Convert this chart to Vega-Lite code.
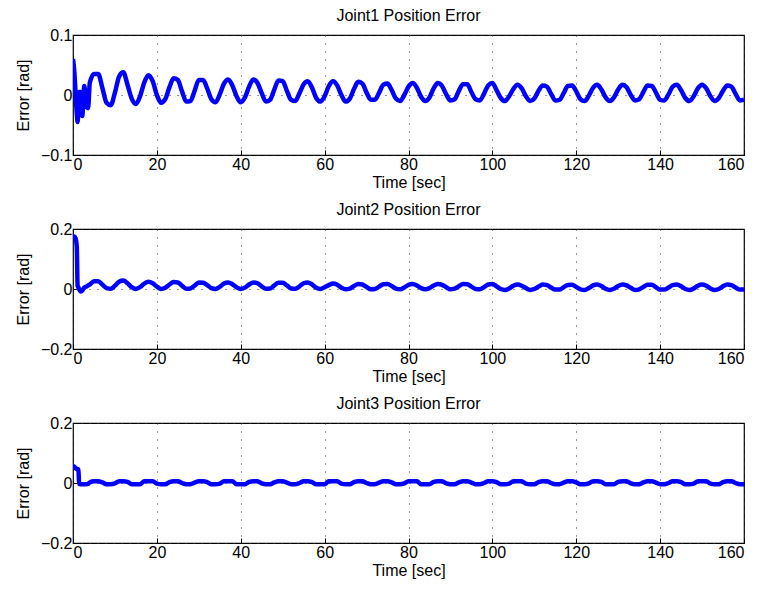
{
  "$schema": "https://vega.github.io/schema/vega-lite/v6.json",
  "padding": {"left": 14, "top": 7, "right": 5, "bottom": 5},
  "spacing": 10,
  "data": {"values": [
    {"t":0,"a":0.060,"b":0.170,"c":0.055},
    {"t":0.3,"a":0.040,"b":0.175,"c":0.055},
    {"t":0.6,"a":0.005,"b":0.170,"c":0.050},
    {"t":0.9,"a":-0.030,"b":0.140,"c":0.047},
    {"t":1.1,"a":-0.045,"b":0.010,"c":0.046},
    {"t":1.3,"a":-0.020,"b":0.005,"c":0.045},
    {"t":1.45,"a":0.005,"b":0.000,"c":-0.003},
    {"t":1.8,"a":0.005,"b":-0.008,"c":-0.004},
    {"t":2.2,"a":-0.035,"b":-0.005,"c":-0.004},
    {"t":2.7,"a":0.015,"b":0.005,"c":-0.004},
    {"t":3.2,"a":-0.020,"b":0.008,"c":-0.004},
    {"t":3.6,"a":-0.022,"b":0.012,"c":-0.003},
    {"t":4,"a":0.020,"b":0.015,"c":0.002},
    {"t":5,"a":0.035,"b":0.026,"c":0.006},
    {"t":6,"a":0.035,"b":0.026,"c":0.006},
    {"t":7,"a":0.012,"b":0.015,"c":0.002},
    {"t":8,"a":-0.013,"b":0.003,"c":-0.004},
    {"t":9,"a":-0.017,"b":0.001,"c":-0.004},
    {"t":10,"a":0.004,"b":0.011,"c":-0.001},
    {"t":11,"a":0.031,"b":0.024,"c":0.006},
    {"t":12,"a":0.038,"b":0.028,"c":0.006},
    {"t":13,"a":0.017,"b":0.019,"c":0.004},
    {"t":14,"a":-0.006,"b":0.006,"c":-0.004},
    {"t":15,"a":-0.015,"b":0.000,"c":-0.004},
    {"t":16,"a":-0.002,"b":0.006,"c":-0.004},
    {"t":17,"a":0.021,"b":0.018,"c":0.006},
    {"t":18,"a":0.033,"b":0.024,"c":0.006},
    {"t":19,"a":0.023,"b":0.019,"c":0.006},
    {"t":20,"a":0.000,"b":0.008,"c":-0.002},
    {"t":21,"a":-0.013,"b":0.000,"c":-0.004},
    {"t":22,"a":-0.007,"b":0.004,"c":-0.004},
    {"t":23,"a":0.013,"b":0.015,"c":0.003},
    {"t":24,"a":0.028,"b":0.023,"c":0.006},
    {"t":25,"a":0.025,"b":0.022,"c":0.006},
    {"t":26,"a":0.006,"b":0.011,"c":0.000},
    {"t":27,"a":-0.011,"b":0.001,"c":-0.004},
    {"t":28,"a":-0.010,"b":0.002,"c":-0.004},
    {"t":29,"a":0.007,"b":0.011,"c":0.001},
    {"t":30,"a":0.025,"b":0.022,"c":0.006},
    {"t":31,"a":0.025,"b":0.021,"c":0.006},
    {"t":32,"a":0.011,"b":0.013,"c":0.003},
    {"t":33,"a":-0.007,"b":0.003,"c":-0.004},
    {"t":34,"a":-0.012,"b":0.000,"c":-0.004},
    {"t":35,"a":0.001,"b":0.007,"c":-0.002},
    {"t":36,"a":0.019,"b":0.018,"c":0.006},
    {"t":37,"a":0.026,"b":0.022,"c":0.006},
    {"t":38,"a":0.016,"b":0.016,"c":0.006},
    {"t":39,"a":-0.002,"b":0.006,"c":-0.004},
    {"t":40,"a":-0.012,"b":0.000,"c":-0.004},
    {"t":41,"a":-0.004,"b":0.005,"c":-0.004},
    {"t":42,"a":0.014,"b":0.015,"c":0.004},
    {"t":43,"a":0.026,"b":0.022,"c":0.006},
    {"t":44,"a":0.020,"b":0.019,"c":0.006},
    {"t":45,"a":0.003,"b":0.009,"c":-0.001},
    {"t":46,"a":-0.011,"b":0.001,"c":-0.004},
    {"t":47,"a":-0.008,"b":0.002,"c":-0.004},
    {"t":48,"a":0.009,"b":0.012,"c":0.002},
    {"t":49,"a":0.024,"b":0.021,"c":0.006},
    {"t":50,"a":0.023,"b":0.021,"c":0.006},
    {"t":51,"a":0.007,"b":0.012,"c":0.001},
    {"t":52,"a":-0.008,"b":0.002,"c":-0.004},
    {"t":53,"a":-0.010,"b":0.001,"c":-0.004},
    {"t":54,"a":0.003,"b":0.009,"c":0.000},
    {"t":55,"a":0.018,"b":0.019,"c":0.006},
    {"t":56,"a":0.023,"b":0.022,"c":0.006},
    {"t":57,"a":0.012,"b":0.015,"c":0.003},
    {"t":58,"a":-0.005,"b":0.004,"c":-0.004},
    {"t":59,"a":-0.011,"b":0.000,"c":-0.004},
    {"t":60,"a":-0.002,"b":0.006,"c":-0.004},
    {"t":61,"a":0.015,"b":0.013,"c":0.006},
    {"t":62,"a":0.023,"b":0.018,"c":0.006},
    {"t":63,"a":0.016,"b":0.014,"c":0.006},
    {"t":64,"a":0.000,"b":0.004,"c":-0.002},
    {"t":65,"a":-0.011,"b":-0.001,"c":-0.004},
    {"t":66,"a":-0.006,"b":0.001,"c":-0.004},
    {"t":67,"a":0.010,"b":0.010,"c":0.003},
    {"t":68,"a":0.022,"b":0.017,"c":0.006},
    {"t":69,"a":0.019,"b":0.015,"c":0.006},
    {"t":70,"a":0.004,"b":0.007,"c":0.000},
    {"t":71,"a":-0.008,"b":-0.001,"c":-0.004},
    {"t":72,"a":-0.008,"b":0.000,"c":-0.004},
    {"t":73,"a":0.004,"b":0.008,"c":0.001},
    {"t":74,"a":0.017,"b":0.016,"c":0.006},
    {"t":75,"a":0.019,"b":0.017,"c":0.006},
    {"t":76,"a":0.008,"b":0.010,"c":0.002},
    {"t":77,"a":-0.006,"b":0.001,"c":-0.004},
    {"t":78,"a":-0.010,"b":-0.001,"c":-0.004},
    {"t":79,"a":0.000,"b":0.005,"c":-0.001},
    {"t":80,"a":0.014,"b":0.014,"c":0.006},
    {"t":81,"a":0.020,"b":0.017,"c":0.006},
    {"t":82,"a":0.012,"b":0.012,"c":0.006},
    {"t":83,"a":-0.003,"b":0.003,"c":-0.004},
    {"t":84,"a":-0.010,"b":-0.001,"c":-0.004},
    {"t":85,"a":-0.004,"b":0.003,"c":-0.004},
    {"t":86,"a":0.011,"b":0.012,"c":0.004},
    {"t":87,"a":0.020,"b":0.017,"c":0.006},
    {"t":88,"a":0.015,"b":0.014,"c":0.006},
    {"t":89,"a":0.001,"b":0.006,"c":-0.001},
    {"t":90,"a":-0.009,"b":-0.001,"c":-0.004},
    {"t":91,"a":-0.007,"b":0.001,"c":-0.004},
    {"t":92,"a":0.007,"b":0.009,"c":0.002},
    {"t":93,"a":0.018,"b":0.017,"c":0.006},
    {"t":94,"a":0.018,"b":0.016,"c":0.006},
    {"t":95,"a":0.005,"b":0.008,"c":0.001},
    {"t":96,"a":-0.007,"b":0.000,"c":-0.004},
    {"t":97,"a":-0.009,"b":-0.001,"c":-0.004},
    {"t":98,"a":0.002,"b":0.006,"c":0.000},
    {"t":99,"a":0.016,"b":0.015,"c":0.006},
    {"t":100,"a":0.020,"b":0.017,"c":0.006},
    {"t":101,"a":0.008,"b":0.009,"c":0.003},
    {"t":102,"a":-0.005,"b":0.000,"c":-0.004},
    {"t":103,"a":-0.010,"b":-0.003,"c":-0.004},
    {"t":104,"a":-0.002,"b":0.002,"c":-0.002},
    {"t":105,"a":0.010,"b":0.011,"c":0.006},
    {"t":106,"a":0.017,"b":0.015,"c":0.006},
    {"t":107,"a":0.011,"b":0.011,"c":0.006},
    {"t":108,"a":-0.002,"b":0.003,"c":-0.002},
    {"t":109,"a":-0.010,"b":-0.003,"c":-0.004},
    {"t":110,"a":-0.006,"b":0.000,"c":-0.004},
    {"t":111,"a":0.007,"b":0.008,"c":0.003},
    {"t":112,"a":0.016,"b":0.015,"c":0.006},
    {"t":113,"a":0.014,"b":0.013,"c":0.006},
    {"t":114,"a":0.002,"b":0.005,"c":0.000},
    {"t":115,"a":-0.009,"b":-0.002,"c":-0.004},
    {"t":116,"a":-0.008,"b":-0.002,"c":-0.004},
    {"t":117,"a":0.003,"b":0.006,"c":0.001},
    {"t":118,"a":0.015,"b":0.013,"c":0.006},
    {"t":119,"a":0.016,"b":0.014,"c":0.006},
    {"t":120,"a":0.006,"b":0.007,"c":0.002},
    {"t":121,"a":-0.007,"b":-0.001,"c":-0.004},
    {"t":122,"a":-0.010,"b":-0.003,"c":-0.004},
    {"t":123,"a":-0.001,"b":0.003,"c":-0.001},
    {"t":124,"a":0.012,"b":0.012,"c":0.006},
    {"t":125,"a":0.017,"b":0.015,"c":0.006},
    {"t":126,"a":0.009,"b":0.010,"c":0.004},
    {"t":127,"a":-0.004,"b":0.001,"c":-0.004},
    {"t":128,"a":-0.010,"b":-0.003,"c":-0.004},
    {"t":129,"a":-0.004,"b":0.001,"c":-0.004},
    {"t":130,"a":0.009,"b":0.010,"c":0.004},
    {"t":131,"a":0.017,"b":0.015,"c":0.006},
    {"t":132,"a":0.013,"b":0.012,"c":0.006},
    {"t":133,"a":0.000,"b":0.004,"c":-0.001},
    {"t":134,"a":-0.009,"b":-0.003,"c":-0.004},
    {"t":135,"a":-0.007,"b":-0.001,"c":-0.004},
    {"t":136,"a":0.005,"b":0.007,"c":0.002},
    {"t":137,"a":0.016,"b":0.014,"c":0.006},
    {"t":138,"a":0.015,"b":0.014,"c":0.006},
    {"t":139,"a":0.004,"b":0.006,"c":0.001},
    {"t":140,"a":-0.008,"b":-0.002,"c":-0.004},
    {"t":141,"a":-0.009,"b":-0.002,"c":-0.004},
    {"t":142,"a":0.001,"b":0.005,"c":0.000},
    {"t":143,"a":0.014,"b":0.013,"c":0.006},
    {"t":144,"a":0.017,"b":0.015,"c":0.006},
    {"t":145,"a":0.008,"b":0.009,"c":0.003},
    {"t":146,"a":-0.005,"b":0.000,"c":-0.004},
    {"t":147,"a":-0.010,"b":-0.003,"c":-0.004},
    {"t":148,"a":-0.002,"b":0.002,"c":-0.002},
    {"t":149,"a":0.011,"b":0.011,"c":0.006},
    {"t":150,"a":0.017,"b":0.015,"c":0.006},
    {"t":151,"a":0.011,"b":0.011,"c":0.006},
    {"t":152,"a":-0.002,"b":0.002,"c":-0.002},
    {"t":153,"a":-0.010,"b":-0.003,"c":-0.004},
    {"t":154,"a":-0.005,"b":0.000,"c":-0.004},
    {"t":155,"a":0.007,"b":0.009,"c":0.003},
    {"t":156,"a":0.016,"b":0.015,"c":0.006},
    {"t":157,"a":0.014,"b":0.013,"c":0.006},
    {"t":158,"a":0.002,"b":0.005,"c":0.000},
    {"t":159,"a":-0.009,"b":-0.002,"c":-0.004},
    {"t":160,"a":-0.008,"b":-0.002,"c":-0.004}
  ]},
  "vconcat": [
    {
      "title": "Joint1 Position Error",
      "width": 671, "height": 120,
      "mark": {"type": "line", "color": "#0000ff", "strokeWidth": 4.5, "interpolate": "monotone", "clip": true},
      "encoding": {
        "x": {"field": "t", "type": "quantitative", "scale": {"domain": [0, 160], "nice": false},
              "axis": {"values": [0, 20, 40, 60, 80, 100, 120, 140, 160], "title": "Time [sec]"}},
        "y": {"field": "a", "type": "quantitative", "scale": {"domain": [-0.1, 0.1], "nice": false},
              "axis": {"values": [-0.1, 0, 0.1], "format": ".1~f", "title": "Error [rad]"}}
      }
    },
    {
      "title": "Joint2 Position Error",
      "width": 671, "height": 120,
      "mark": {"type": "line", "color": "#0000ff", "strokeWidth": 4.5, "interpolate": "monotone", "clip": true},
      "encoding": {
        "x": {"field": "t", "type": "quantitative", "scale": {"domain": [0, 160], "nice": false},
              "axis": {"values": [0, 20, 40, 60, 80, 100, 120, 140, 160], "title": "Time [sec]"}},
        "y": {"field": "b", "type": "quantitative", "scale": {"domain": [-0.2, 0.2], "nice": false},
              "axis": {"values": [-0.2, 0, 0.2], "format": ".1~f", "title": "Error [rad]"}}
      }
    },
    {
      "title": "Joint3 Position Error",
      "width": 671, "height": 120,
      "mark": {"type": "line", "color": "#0000ff", "strokeWidth": 4.5, "interpolate": "monotone", "clip": true},
      "encoding": {
        "x": {"field": "t", "type": "quantitative", "scale": {"domain": [0, 160], "nice": false},
              "axis": {"values": [0, 20, 40, 60, 80, 100, 120, 140, 160], "title": "Time [sec]"}},
        "y": {"field": "c", "type": "quantitative", "scale": {"domain": [-0.2, 0.2], "nice": false},
              "axis": {"values": [-0.2, 0, 0.2], "format": ".1~f", "title": "Error [rad]"}}
      }
    }
  ],
  "config": {
    "font": "Liberation Sans",
    "background": "white",
    "view": {"stroke": "black", "strokeWidth": 1.2},
    "axis": {
      "domain": false,
      "labelFontSize": 16, "titleFontSize": 16, "titleFontWeight": "normal",
      "labelColor": "black", "titleColor": "black",
      "tickColor": "black", "tickSize": -5, "labelPadding": 6,
      "gridColor": "#333333", "gridDash": [1, 7], "gridWidth": 1, "gridOpacity": 1
    },
    "axisX": {"titlePadding": 2},
    "axisY": {"titlePadding": 9},
    "title": {"fontSize": 16, "fontWeight": "normal", "color": "black", "offset": 3}
  }
}
